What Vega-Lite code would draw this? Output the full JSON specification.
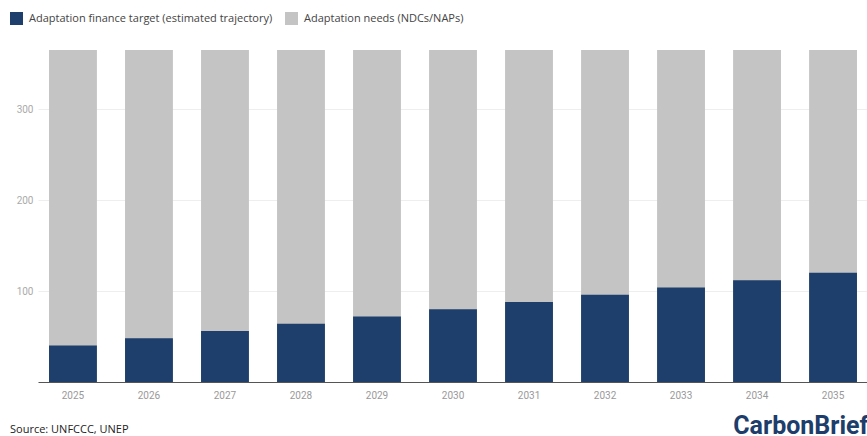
{
  "$schema": "https://vega.github.io/schema/vega-lite/v6.json",
  "autosize": {"type": "none"},
  "width": 830,
  "height": 332,
  "padding": {"left": 38, "top": 50, "right": 0, "bottom": 54},
  "background": "white",
  "config": {"view": {"stroke": null}, "font": "Roboto"},
  "title": {"text": "Source: UNFCCC, UNEP", "orient": "bottom", "anchor": "start", "frame": "group", "dx": -28, "dy": -14, "fontSize": 11, "fontWeight": "normal", "color": "#222", "font": "Open Sans", "offset": 0},
  "data": {"values": [
    {"year": "2025", "series": "Adaptation needs (NDCs/NAPs)", "value": 365},
    {"year": "2026", "series": "Adaptation needs (NDCs/NAPs)", "value": 365},
    {"year": "2027", "series": "Adaptation needs (NDCs/NAPs)", "value": 365},
    {"year": "2028", "series": "Adaptation needs (NDCs/NAPs)", "value": 365},
    {"year": "2029", "series": "Adaptation needs (NDCs/NAPs)", "value": 365},
    {"year": "2030", "series": "Adaptation needs (NDCs/NAPs)", "value": 365},
    {"year": "2031", "series": "Adaptation needs (NDCs/NAPs)", "value": 365},
    {"year": "2032", "series": "Adaptation needs (NDCs/NAPs)", "value": 365},
    {"year": "2033", "series": "Adaptation needs (NDCs/NAPs)", "value": 365},
    {"year": "2034", "series": "Adaptation needs (NDCs/NAPs)", "value": 365},
    {"year": "2035", "series": "Adaptation needs (NDCs/NAPs)", "value": 365},
    {"year": "2025", "series": "Adaptation finance target (estimated trajectory)", "value": 40},
    {"year": "2026", "series": "Adaptation finance target (estimated trajectory)", "value": 48},
    {"year": "2027", "series": "Adaptation finance target (estimated trajectory)", "value": 56},
    {"year": "2028", "series": "Adaptation finance target (estimated trajectory)", "value": 64},
    {"year": "2029", "series": "Adaptation finance target (estimated trajectory)", "value": 72},
    {"year": "2030", "series": "Adaptation finance target (estimated trajectory)", "value": 80},
    {"year": "2031", "series": "Adaptation finance target (estimated trajectory)", "value": 88},
    {"year": "2032", "series": "Adaptation finance target (estimated trajectory)", "value": 96},
    {"year": "2033", "series": "Adaptation finance target (estimated trajectory)", "value": 104},
    {"year": "2034", "series": "Adaptation finance target (estimated trajectory)", "value": 112},
    {"year": "2035", "series": "Adaptation finance target (estimated trajectory)", "value": 120}
  ]},
  "mark": {"type": "bar"},
  "encoding": {
    "x": {
      "field": "year", "type": "ordinal",
      "scale": {"paddingInner": 0.37, "paddingOuter": 0.145},
      "axis": {
        "title": "CarbonBrief", "titleAnchor": "end", "titleFontSize": 25, "titleFontWeight": "bold",
        "titleColor": "#1d3d6b", "titleFont": "Roboto", "titlePadding": 13,
        "labelAngle": 0, "labelColor": "#999", "labelFontSize": 10, "labelPadding": 8,
        "ticks": false, "domainColor": "#555", "domainWidth": 1.2, "grid": false
      }
    },
    "y": {
      "field": "value", "type": "quantitative", "stack": null,
      "scale": {"domain": [0, 365], "nice": false},
      "axis": {
        "title": null, "values": [100, 200, 300], "labelColor": "#aaa", "labelFontSize": 10,
        "labelPadding": 5, "ticks": false, "domain": false, "grid": true, "gridColor": "#eeeeee"
      }
    },
    "color": {
      "field": "series", "type": "nominal",
      "scale": {
        "domain": ["Adaptation finance target (estimated trajectory)", "Adaptation needs (NDCs/NAPs)"],
        "range": ["#1e3f6c", "#c4c4c4"]
      },
      "legend": {
        "title": null, "orient": "none", "legendX": -28, "legendY": -38, "direction": "horizontal",
        "symbolType": "square", "symbolSize": 169, "symbolStrokeWidth": 0, "symbolOpacity": 1,
        "labelFont": "Open Sans", "labelFontSize": 11, "labelColor": "#444", "columnPadding": 12, "labelOffset": 6, "labelLimit": 400
      }
    }
  }
}
